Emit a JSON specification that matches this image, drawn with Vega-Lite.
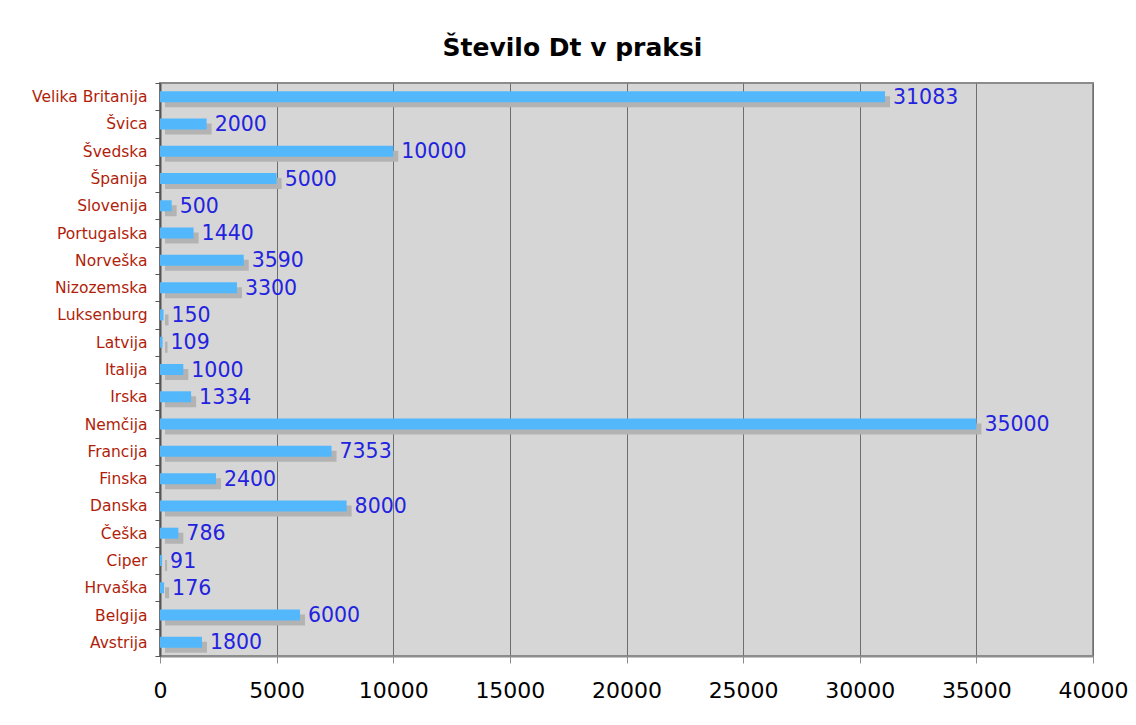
{
  "$schema": "https://vega.github.io/schema/vega-lite/v6.json",
  "width": 933,
  "height": 573,
  "autosize": {"type": "none"},
  "padding": {"left": 160, "top": 83, "right": 43, "bottom": 69},
  "background": "white",
  "title": {
    "text": "Število Dt v praksi",
    "font": "DejaVu Sans",
    "fontSize": 25,
    "fontWeight": "bold",
    "color": "black",
    "anchor": "middle",
    "baseline": "alphabetic",
    "offset": 28,
    "dx": -54,
    "dy": 33
  },
  "config": {
    "view": {"fill": "#d6d6d6", "stroke": "#8c8c8c", "strokeWidth": 2},
    "font": "DejaVu Sans"
  },
  "data": {
    "values": [
      {"drzava": "Velika Britanija", "stevilo": 31083},
      {"drzava": "Švica", "stevilo": 2000},
      {"drzava": "Švedska", "stevilo": 10000},
      {"drzava": "Španija", "stevilo": 5000},
      {"drzava": "Slovenija", "stevilo": 500},
      {"drzava": "Portugalska", "stevilo": 1440},
      {"drzava": "Norveška", "stevilo": 3590},
      {"drzava": "Nizozemska", "stevilo": 3300},
      {"drzava": "Luksenburg", "stevilo": 150},
      {"drzava": "Latvija", "stevilo": 109},
      {"drzava": "Italija", "stevilo": 1000},
      {"drzava": "Irska", "stevilo": 1334},
      {"drzava": "Nemčija", "stevilo": 35000},
      {"drzava": "Francija", "stevilo": 7353},
      {"drzava": "Finska", "stevilo": 2400},
      {"drzava": "Danska", "stevilo": 8000},
      {"drzava": "Češka", "stevilo": 786},
      {"drzava": "Ciper", "stevilo": 91},
      {"drzava": "Hrvaška", "stevilo": 176},
      {"drzava": "Belgija", "stevilo": 6000},
      {"drzava": "Avstrija", "stevilo": 1800}
    ]
  },
  "encoding": {
    "y": {
      "field": "drzava",
      "type": "nominal",
      "sort": null,
      "title": null,
      "scale": {"paddingInner": 0, "paddingOuter": 0},
      "axis": {
        "tickBand": "extent",
        "labelFont": "DejaVu Sans",
        "labelFontSize": 15.5,
        "labelColor": "#b01e0a",
        "labelPadding": 8,
        "tickSize": 5,
        "tickColor": "#555555",
        "domainColor": "#555555",
        "domainWidth": 2,
        "grid": false
      }
    },
    "x": {
      "field": "stevilo",
      "type": "quantitative",
      "title": null,
      "scale": {"domain": [0, 40000], "nice": false},
      "axis": {
        "values": [0, 5000, 10000, 15000, 20000, 25000, 30000, 35000, 40000],
        "format": "d",
        "labelFlush": false,
        "labelOverlap": false,
        "labelBound": false,
        "labelFont": "DejaVu Sans",
        "labelFontSize": 22,
        "labelColor": "black",
        "labelPadding": 17,
        "tickSize": 7,
        "tickColor": "#8c8c8c",
        "domainColor": "#8c8c8c",
        "domainWidth": 2,
        "grid": true,
        "gridColor": "#6e6e6e",
        "gridWidth": 1,
        "gridOpacity": 1
      }
    }
  },
  "layer": [
    {
      "mark": {"type": "bar", "color": "#b3b3b3", "size": 11, "xOffset": 5, "x2Offset": 5, "yOffset": 5}
    },
    {
      "mark": {"type": "bar", "color": "#52b8fb", "size": 11}
    },
    {
      "mark": {"type": "text", "align": "left", "baseline": "middle", "dx": 8, "dy": 1, "fontSize": 20.5, "color": "#2323df", "font": "DejaVu Sans"},
      "encoding": {"text": {"field": "stevilo", "type": "quantitative", "format": "d"}}
    }
  ]
}
